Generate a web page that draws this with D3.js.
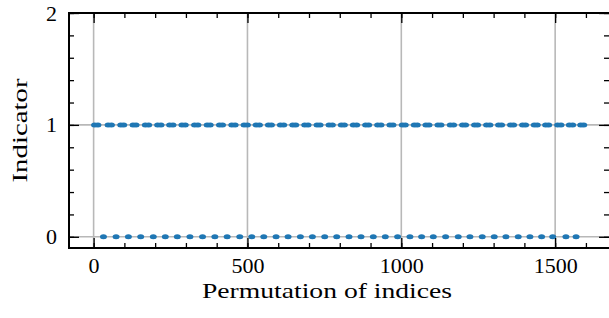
<!DOCTYPE html>
<html><head><meta charset="utf-8">
<script src="https://cdn.jsdelivr.net/npm/d3@7"></script>
<style>body{margin:0;background:#fff}svg{display:block}text{font-family:"Liberation Serif","Times New Roman",serif;fill:#000}</style>
</head><body><svg id="c" width="609" height="318"></svg>
<script>
// indices where the indicator equals 1
const onesX = [3,14,47,58,88,98,128,138,168,179,208,219,247,258,287,298,328,339,369,379,409,419,449,460,489,500,528,539,568,578,607,618,647,657,686,697,726,736,765,776,805,815,844,855,884,894,923,934,963,973,1003,1013,1042,1052,1080,1090,1119,1129,1159,1170,1199,1209,1238,1248,1277,1288,1316,1326,1355,1365,1394,1404,1432,1442,1469,1479,1508,1519,1546,1557,1583,1593];
// indices where the indicator equals 0
const zerosX = [32,73,113,153,194,233,272,313,354,394,434,475,514,553,593,632,672,711,751,790,830,869,909,948,988,1028,1066,1104,1144,1185,1223,1263,1302,1340,1380,1418,1456,1492,1535,1568];
const xTicks = [0,500,1000,1500];
const yTicks = [0,1,2];
const xLabel = "Permutation of indices";
const yLabel = "Indicator";

const svg = d3.select("#c");
const L=69, R=609, T=13, B=248;
const x = d3.scaleLinear().domain([-80,1675]).range([L,R]);
const y = d3.scaleLinear().domain([-0.1,2]).range([B,T]);
const fs = 22;

// grid
const g = svg.append("g");
g.selectAll(".gx").data(xTicks).enter().append("line")
  .attr("x1",d=>x(d)).attr("x2",d=>x(d)).attr("y1",T).attr("y2",B)
  .attr("stroke","#b8b8b8").attr("stroke-width",1.6);
g.selectAll(".gy").data(yTicks).enter().append("line")
  .attr("y1",d=>y(d)).attr("y2",d=>y(d)).attr("x1",L).attr("x2",R)
  .attr("stroke","#b8b8b8").attr("stroke-width",1.6);

// data
const pts = onesX.map(v=>({x:v,y:1})).concat(zerosX.map(v=>({x:v,y:0})));
svg.append("g").selectAll("ellipse").data(pts).enter().append("ellipse")
  .attr("cx",d=>x(d.x)).attr("cy",d=>y(d.y)).attr("rx",3.5).attr("ry",2.5)
  .attr("fill","#1f77b4");

// axes (ticks inward)
const xMinor = d3.range(0,1700,100).filter(v=>x(v)<R);
const yMinor = d3.range(0,2.001,0.2).map(v=>+v.toFixed(1));
function axisG(axis, tx, ty){ const a=svg.append("g").attr("transform",`translate(${tx},${ty})`).call(axis); a.select(".domain").remove(); a.selectAll("line").attr("stroke","#000").attr("stroke-width",1.3); return a; }
// minor
axisG(d3.axisBottom(x).tickValues(xMinor).tickSize(-5).tickFormat(""),0,B);
axisG(d3.axisTop(x).tickValues(xMinor).tickSize(-5).tickFormat(""),0,T);
axisG(d3.axisLeft(y).tickValues(yMinor).tickSize(-5).tickFormat(""),L,0);
axisG(d3.axisRight(y).tickValues(yMinor).tickSize(-5).tickFormat(""),R,0);
// major
const xb = axisG(d3.axisBottom(x).tickValues(xTicks).tickSize(-10).tickPadding(9).tickFormat(d3.format("d")),0,B);
xb.selectAll("text").attr("font-size",fs).attr("font-family",null);
axisG(d3.axisTop(x).tickValues(xTicks).tickSize(-10).tickFormat(""),0,T);
const yl = axisG(d3.axisLeft(y).tickValues(yTicks).tickSize(-10).tickPadding(12).tickFormat(d3.format("d")),L,0);
yl.selectAll("text").attr("font-size",fs).attr("font-family",null);
axisG(d3.axisRight(y).tickValues(yTicks).tickSize(-10).tickFormat(""),R,0);

// frame (right spine lies just outside the canvas)
svg.append("rect").attr("x",L).attr("y",T).attr("width",R-L+2).attr("height",B-T)
  .attr("fill","none").attr("stroke","#000").attr("stroke-width",2);

svg.append("text").attr("x",327).attr("y",298).attr("text-anchor","middle").attr("font-size",fs)
  .attr("textLength",250).attr("lengthAdjust","spacingAndGlyphs").text(xLabel);
svg.append("text").attr("transform",`translate(27,${(T+B)/2}) rotate(-90)`).attr("text-anchor","middle").attr("font-size",fs)
  .attr("textLength",104).attr("lengthAdjust","spacingAndGlyphs").text(yLabel);
</script></body></html>
